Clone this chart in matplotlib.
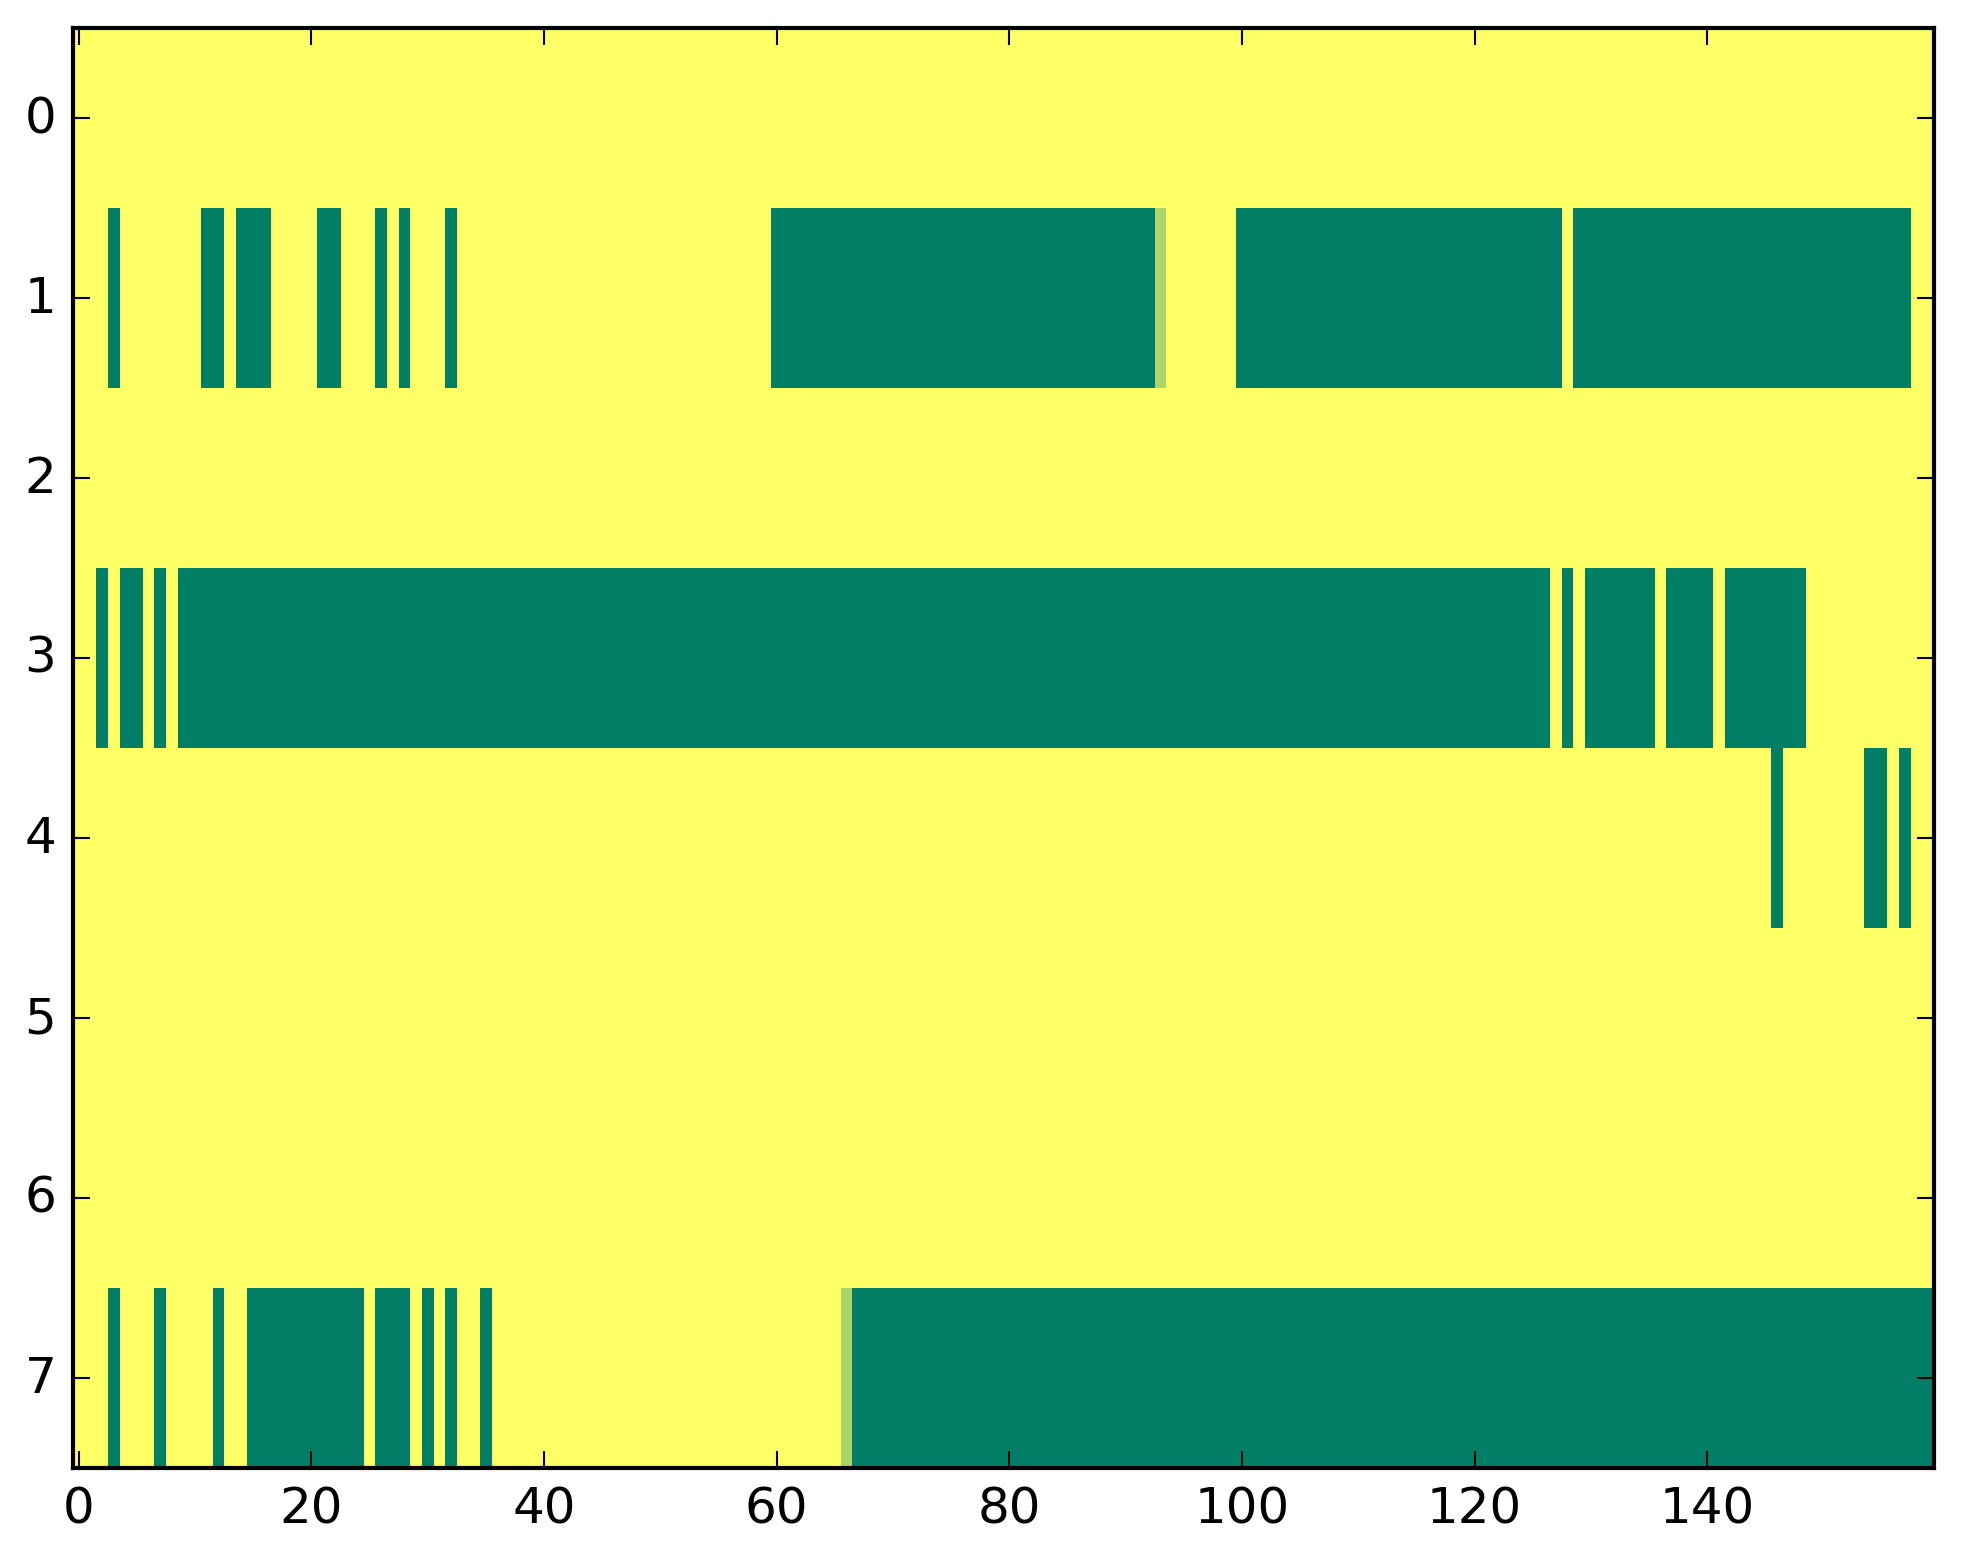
import numpy as np
import matplotlib
matplotlib.use('Agg')
import matplotlib.pyplot as plt

n_rows, n_cols = 8, 160

# green runs per row (inclusive column ranges), everything else is 0
row1_runs = [(3, 3), (11, 12), (14, 16), (21, 22), (26, 26), (28, 28), (32, 32),
             (60, 92), (100, 127), (129, 157)]
row3_runs = [(2, 2), (4, 5), (7, 7), (9, 126), (128, 128), (130, 135),
             (137, 140), (142, 148)]
row4_runs = [(146, 146), (154, 155), (157, 157)]
row7_runs = [(3, 3), (7, 7), (12, 12), (15, 24), (26, 28), (30, 30), (32, 32),
             (35, 35), (67, 159)]
runs = {1: row1_runs, 3: row3_runs, 4: row4_runs, 7: row7_runs}

# cells with an in-between value (light green)
partial_cells = [(1, 93), (7, 66)]
partial_value = 0.33

grid = np.zeros((n_rows, n_cols))
for r, rr in runs.items():
    for a, b in rr:
        grid[r, a:b + 1] = 1.0
for r, c in partial_cells:
    grid[r, c] = partial_value

plt.style.use('classic')
plt.rcParams['figure.facecolor'] = 'white'
plt.rcParams['savefig.facecolor'] = 'white'

fig = plt.figure(figsize=(1963 / 300, 1564 / 300), dpi=300)
ax = fig.add_axes([73 / 1963, 95 / 1564, 1861 / 1963, 1440 / 1564])
ax.imshow(grid, cmap='summer_r', vmin=0, vmax=1, aspect='auto', interpolation='nearest')
ax.set_xlim(-0.5, n_cols - 0.5)
ax.set_ylim(n_rows - 0.5, -0.5)
ax.set_xticks(np.arange(0, 141, 20))
ax.set_yticks(np.arange(n_rows))
ax.tick_params(labelsize=12)

fig.savefig('out.png', dpi=300)
